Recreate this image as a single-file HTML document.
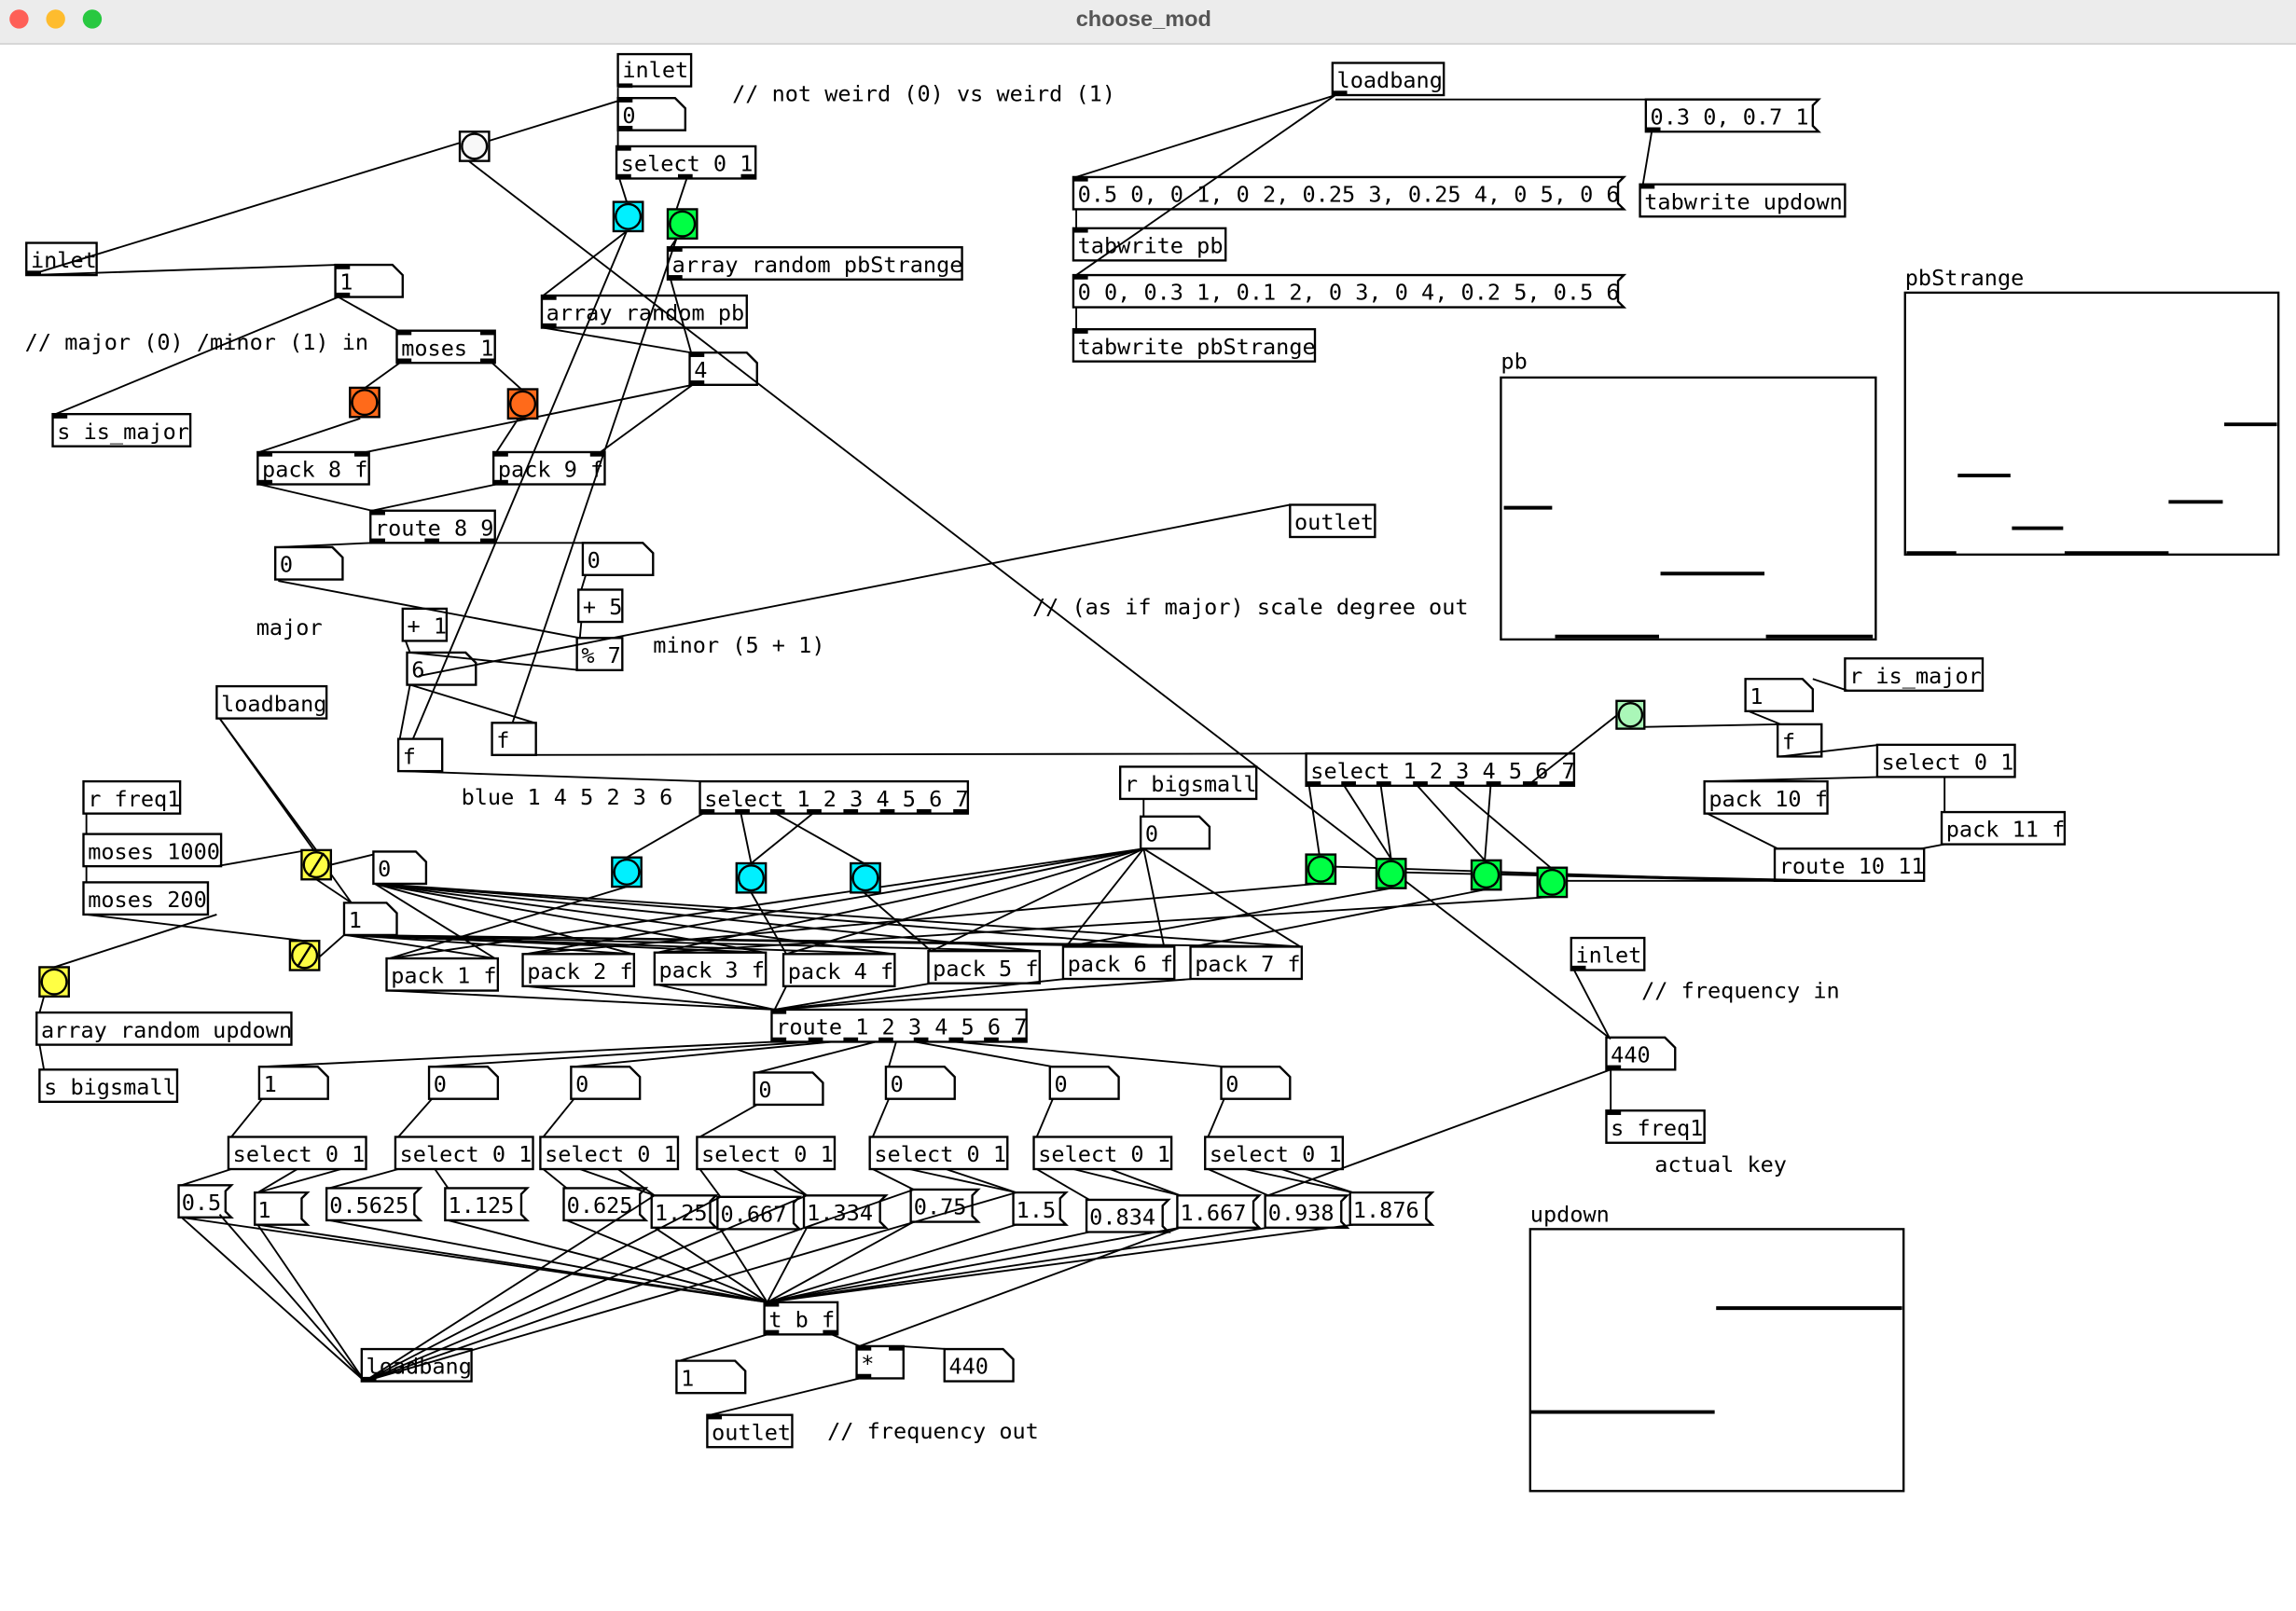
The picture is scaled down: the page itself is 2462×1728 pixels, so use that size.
<!DOCTYPE html>
<html><head><meta charset="utf-8"><style>
html,body{margin:0;padding:0;background:#fff;width:2462px;height:1728px;overflow:hidden}
svg{display:block}
text{font-family:"DejaVu Sans Mono","Liberation Mono",monospace;font-size:15px;fill:#000}
.b rect,.b polygon{fill:none;stroke:#000;stroke-width:1.5}
.w line,.w polyline{stroke:#000;stroke-width:1.2;fill:none}
.io{fill:#000}
</style></head><body>
<svg width="2462" height="1728" viewBox="0 0 1568 1101" preserveAspectRatio="none" xmlns="http://www.w3.org/2000/svg">
<rect x="0" y="0" width="1568" height="30" fill="#ececec"/>
<line x1="0" y1="30" x2="1568" y2="30" stroke="#d0d0d0"/>
<circle cx="13" cy="13" r="6.5" fill="#fe5f57"/><circle cx="38" cy="13" r="6.5" fill="#febc2e"/><circle cx="63" cy="13" r="6.5" fill="#28c840"/>
<text x="781" y="18" text-anchor="middle" style="font-family:'Liberation Sans',sans-serif;font-weight:bold;font-size:15px;fill:#555">choose_mod</text>

<!-- wires -->
<g class="w">
<line x1="422" y1="60" x2="422" y2="67"/><line x1="422" y1="89" x2="422" y2="100"/>
<line x1="325" y1="99" x2="422" y2="69"/><line x1="20" y1="188" x2="316" y2="97"/>
<line x1="320" y1="110" x2="1100" y2="710"/>
<line x1="423" y1="122" x2="428" y2="138"/><line x1="469" y1="122" x2="462" y2="143"/>
<line x1="428" y1="158" x2="371" y2="202"/><line x1="428" y1="158" x2="282" y2="505"/>
<line x1="462" y1="163" x2="458" y2="169"/><line x1="462" y1="163" x2="350" y2="494"/>
<line x1="458" y1="191" x2="472" y2="241"/><line x1="371" y1="224" x2="472" y2="241"/>
<line x1="20" y1="188" x2="230" y2="181"/>
<line x1="231" y1="203" x2="272" y2="226"/><line x1="231" y1="203" x2="38" y2="283"/>
<line x1="273" y1="248" x2="248" y2="266"/><line x1="336" y1="248" x2="356" y2="266"/>
<line x1="246" y1="286" x2="177" y2="309"/><line x1="354" y1="286" x2="339" y2="309"/>
<line x1="473" y1="263" x2="250" y2="309"/><line x1="473" y1="263" x2="410" y2="309"/>
<line x1="177" y1="331" x2="254" y2="349"/><line x1="339" y1="331" x2="254" y2="349"/>
<line x1="254" y1="371" x2="190" y2="374"/><line x1="296" y1="371" x2="400" y2="371"/>
<line x1="190" y1="397" x2="396" y2="436"/>
<line x1="400" y1="393" x2="397" y2="403"/><line x1="397" y1="425" x2="396" y2="436"/>
<line x1="396" y1="458" x2="280" y2="446"/><line x1="286" y1="462" x2="881" y2="345"/>
<line x1="277" y1="438" x2="280" y2="446"/>
<line x1="280" y1="468" x2="273" y2="505"/><line x1="280" y1="468" x2="365" y2="494"/>
<line x1="150" y1="491" x2="216" y2="581"/><line x1="150" y1="491" x2="240" y2="617"/>
<line x1="338" y1="516" x2="892" y2="515"/><line x1="274" y1="527" x2="480" y2="534"/>
<line x1="480" y1="556" x2="428" y2="586"/><line x1="506" y1="556" x2="513" y2="590"/>
<line x1="555" y1="556" x2="513" y2="590"/><line x1="530" y1="556" x2="590" y2="590"/>
<line x1="59" y1="556" x2="59" y2="570"/><line x1="59" y1="592" x2="59" y2="603"/>
<line x1="148" y1="592" x2="210" y2="581"/><line x1="226" y1="591" x2="255" y2="584"/>
<line x1="148" y1="625" x2="37" y2="661"/><line x1="59" y1="625" x2="208" y2="643"/>
<line x1="30" y1="681" x2="27" y2="692"/><line x1="27" y1="714" x2="30" y2="731"/>
<line x1="216" y1="601" x2="240" y2="617"/>
<line x1="208" y1="663" x2="235" y2="639"/>
<line x1="256" y1="604" x2="338" y2="655"/><line x1="256" y1="604" x2="432" y2="652"/>
<line x1="256" y1="604" x2="522" y2="651"/><line x1="256" y1="604" x2="610" y2="652"/>
<line x1="256" y1="604" x2="709" y2="650"/><line x1="256" y1="604" x2="801" y2="647"/>
<line x1="256" y1="604" x2="888" y2="647"/>
<line x1="236" y1="639" x2="338" y2="655"/><line x1="236" y1="639" x2="432" y2="652"/>
<line x1="236" y1="639" x2="522" y2="651"/><line x1="236" y1="639" x2="610" y2="652"/>
<line x1="236" y1="639" x2="709" y2="650"/><line x1="236" y1="639" x2="801" y2="647"/>
<line x1="236" y1="639" x2="888" y2="647"/>
<line x1="781" y1="580" x2="266" y2="655"/><line x1="781" y1="580" x2="359" y2="652"/>
<line x1="781" y1="580" x2="449" y2="651"/><line x1="781" y1="580" x2="537" y2="652"/>
<line x1="781" y1="580" x2="636" y2="650"/><line x1="781" y1="580" x2="728" y2="647"/>
<line x1="781" y1="580" x2="795" y2="647"/><line x1="781" y1="580" x2="888" y2="647"/>
<line x1="428" y1="606" x2="266" y2="655"/><line x1="513" y1="610" x2="537" y2="652"/>
<line x1="590" y1="610" x2="636" y2="650"/>
<line x1="899" y1="604" x2="359" y2="652"/><line x1="950" y1="607" x2="728" y2="647"/>
<line x1="1014" y1="608" x2="815" y2="647"/><line x1="1059" y1="613" x2="449" y2="651"/>
<line x1="781" y1="546" x2="781" y2="558"/>
<line x1="894" y1="537" x2="901" y2="584"/><line x1="918" y1="537" x2="950" y2="587"/>
<line x1="943" y1="537" x2="950" y2="587"/><line x1="968" y1="537" x2="1014" y2="588"/>
<line x1="1018" y1="537" x2="1014" y2="588"/><line x1="993" y1="537" x2="1059" y2="593"/>
<line x1="1043" y1="537" x2="1104" y2="489"/>
<line x1="1113" y1="497" x2="1216" y2="495"/><line x1="1262" y1="472" x2="1238" y2="464"/>
<line x1="1194" y1="486" x2="1216" y2="495"/><line x1="1216" y1="517" x2="1284" y2="509"/>
<line x1="1284" y1="531" x2="1166" y2="534"/><line x1="1328" y1="531" x2="1328" y2="555"/>
<line x1="1166" y1="556" x2="1214" y2="580"/><line x1="1328" y1="577" x2="1312" y2="580"/>
<line x1="1214" y1="602" x2="902" y2="592"/><line x1="1214" y1="602" x2="950" y2="596"/>
<line x1="1262" y1="602" x2="1014" y2="597"/><line x1="1262" y1="602" x2="1060" y2="602"/>
<line x1="266" y1="677" x2="529" y2="690"/><line x1="359" y1="674" x2="529" y2="690"/>
<line x1="449" y1="673" x2="529" y2="690"/><line x1="537" y1="674" x2="529" y2="690"/>
<line x1="636" y1="672" x2="529" y2="690"/><line x1="728" y1="669" x2="529" y2="690"/>
<line x1="815" y1="669" x2="529" y2="690"/>
<line x1="529" y1="712" x2="179" y2="729"/><line x1="556" y1="712" x2="295" y2="729"/>
<line x1="568" y1="712" x2="392" y2="729"/><line x1="598" y1="712" x2="517" y2="733"/>
<line x1="612" y1="712" x2="607" y2="729"/><line x1="625" y1="712" x2="719" y2="729"/>
<line x1="652" y1="712" x2="836" y2="729"/>
<line x1="179" y1="751" x2="158" y2="777"/><line x1="295" y1="751" x2="272" y2="777"/>
<line x1="392" y1="751" x2="371" y2="777"/><line x1="517" y1="755" x2="478" y2="777"/>
<line x1="607" y1="751" x2="596" y2="777"/><line x1="719" y1="751" x2="708" y2="777"/>
<line x1="836" y1="751" x2="825" y2="777"/>
<line x1="158" y1="799" x2="124" y2="810"/><line x1="203" y1="799" x2="176" y2="815"/><line x1="233" y1="799" x2="176" y2="815"/>
<line x1="272" y1="799" x2="225" y2="812"/><line x1="297" y1="799" x2="306" y2="812"/>
<line x1="371" y1="799" x2="387" y2="812"/><line x1="396" y1="799" x2="447" y2="817"/><line x1="422" y1="799" x2="447" y2="817"/>
<line x1="478" y1="799" x2="492" y2="818"/><line x1="503" y1="799" x2="551" y2="817"/><line x1="528" y1="799" x2="551" y2="817"/>
<line x1="596" y1="799" x2="624" y2="813"/><line x1="621" y1="799" x2="694" y2="815"/><line x1="646" y1="799" x2="694" y2="815"/>
<line x1="708" y1="799" x2="744" y2="820"/><line x1="733" y1="799" x2="806" y2="817"/><line x1="758" y1="799" x2="806" y2="817"/>
<line x1="825" y1="799" x2="866" y2="817"/><line x1="850" y1="799" x2="924" y2="815"/><line x1="875" y1="799" x2="924" y2="815"/>
<line x1="1100" y1="731" x2="866" y2="817"/>
<line x1="1075" y1="663" x2="1099" y2="709"/><line x1="1100" y1="731" x2="1100" y2="759"/>
<line x1="124" y1="832" x2="524" y2="890"/><line x1="176" y1="837" x2="524" y2="890"/>
<line x1="225" y1="834" x2="524" y2="890"/><line x1="306" y1="834" x2="524" y2="890"/>
<line x1="387" y1="834" x2="524" y2="890"/><line x1="447" y1="839" x2="524" y2="890"/>
<line x1="492" y1="840" x2="524" y2="890"/><line x1="551" y1="839" x2="524" y2="890"/>
<line x1="624" y1="835" x2="524" y2="890"/><line x1="694" y1="837" x2="524" y2="890"/>
<line x1="744" y1="842" x2="524" y2="890"/><line x1="806" y1="839" x2="524" y2="890"/>
<line x1="866" y1="839" x2="524" y2="890"/><line x1="924" y1="837" x2="524" y2="890"/>
<line x1="124" y1="832" x2="249" y2="944"/><line x1="176" y1="837" x2="249" y2="944"/>
<line x1="150" y1="830" x2="249" y2="944"/>
<line x1="249" y1="944" x2="447" y2="817"/><line x1="249" y1="944" x2="492" y2="818"/>
<line x1="249" y1="944" x2="551" y2="817"/><line x1="249" y1="944" x2="624" y2="813"/>
<line x1="249" y1="944" x2="694" y2="815"/>
<line x1="524" y1="912" x2="464" y2="930"/><line x1="568" y1="912" x2="587" y2="920"/>
<line x1="587" y1="942" x2="485" y2="967"/><line x1="647" y1="922" x2="615" y2="920"/>
<line x1="587" y1="920" x2="806" y2="839"/>
<line x1="912" y1="65" x2="735" y2="121"/><line x1="912" y1="65" x2="735" y2="188"/>
<line x1="912" y1="68" x2="1126" y2="68"/>
<line x1="1128" y1="90" x2="1122" y2="126"/>
<line x1="735" y1="143" x2="735" y2="156"/><line x1="735" y1="210" x2="735" y2="225"/>
</g>

<g class="b">
<rect x="422" y="37" width="50" height="22"/><text x="425" y="53">inlet</text>
<polygon points="422,67 461,67 468,74 468,89 422,89"/><text x="425" y="84">0</text>
<rect x="421" y="100" width="95" height="22"/><text x="424" y="117">select 0 1</text>
<rect x="456" y="169" width="201" height="22"/><text x="459" y="186">array random pbStrange</text>
<rect x="18" y="166" width="48" height="22"/><text x="21" y="183">inlet</text>
<polygon points="229,181 268,181 275,188 275,203 229,203"/><text x="232" y="198">1</text>
<rect x="271" y="226" width="67" height="22"/><text x="274" y="243">moses 1</text>
<rect x="370" y="202" width="140" height="22"/><text x="373" y="219">array random pb</text>
<polygon points="471,241 510,241 517,248 517,263 471,263"/><text x="474" y="258">4</text>
<rect x="36" y="283" width="94" height="22"/><text x="39" y="300">s is_major</text>
<rect x="176" y="309" width="76" height="22"/><text x="179" y="326">pack 8 f</text>
<rect x="337" y="309" width="76" height="22"/><text x="340" y="326">pack 9 f</text>
<rect x="253" y="349" width="85" height="22"/><text x="256" y="366">route 8 9</text>
<polygon points="188,374 227,374 234,381 234,396 188,396"/><text x="191" y="391">0</text>
<polygon points="398,371 439,371 446,378 446,393 398,393"/><text x="401" y="388">0</text>
<rect x="395" y="403" width="30" height="22"/><text x="398" y="420">+ 5</text>
<rect x="275" y="416" width="30" height="22"/><text x="278" y="433">+ 1</text>
<rect x="394" y="436" width="31" height="22"/><text x="397" y="453">% 7</text>
<polygon points="278,446 318,446 325,453 325,468 278,468"/><text x="281" y="463">6</text>
<rect x="881" y="345" width="58" height="22"/><text x="884" y="362">outlet</text>
<rect x="148" y="469" width="75" height="22"/><text x="151" y="486">loadbang</text>
<rect x="336" y="494" width="30" height="22"/><text x="339" y="511">f</text>
<rect x="272" y="505" width="30" height="22"/><text x="275" y="522">f</text>
<rect x="478" y="534" width="183" height="22"/><text x="481" y="551">select 1 2 3 4 5 6 7</text>
<rect x="765" y="524" width="93" height="22"/><text x="768" y="541">r bigsmall</text>
<polygon points="779,558 819,558 826,565 826,580 779,580"/><text x="782" y="575">0</text>
<rect x="892" y="515" width="183" height="22"/><text x="895" y="532">select 1 2 3 4 5 6 7</text>
<polygon points="1192,464 1231,464 1238,471 1238,486 1192,486"/><text x="1195" y="481">1</text>
<rect x="1260" y="450" width="94" height="22"/><text x="1263" y="467">r is_major</text>
<rect x="1214" y="495" width="30" height="22"/><text x="1217" y="512">f</text>
<rect x="1282" y="509" width="94" height="22"/><text x="1285" y="526">select 0 1</text>
<rect x="1164" y="534" width="84" height="22"/><text x="1167" y="551">pack 10 f</text>
<rect x="1326" y="555" width="84" height="22"/><text x="1329" y="572">pack 11 f</text>
<rect x="1212" y="580" width="102" height="22"/><text x="1215" y="597">route 10 11</text>
<rect x="57" y="534" width="66" height="22"/><text x="60" y="551">r freq1</text>
<rect x="57" y="570" width="94" height="22"/><text x="60" y="587">moses 1000</text>
<rect x="57" y="603" width="85" height="22"/><text x="60" y="620">moses 200</text>
<polygon points="255,582 284,582 291,589 291,604 255,604"/><text x="258" y="599">0</text>
<polygon points="235,617 264,617 271,624 271,639 235,639"/><text x="238" y="634">1</text>
<rect x="25" y="692" width="174" height="22"/><text x="28" y="709">array random updown</text>
<rect x="27" y="731" width="94" height="22"/><text x="30" y="748">s bigsmall</text>
<rect x="264" y="655" width="76" height="22"/><text x="267" y="672">pack 1 f</text>
<rect x="357" y="652" width="76" height="22"/><text x="360" y="669">pack 2 f</text>
<rect x="447" y="651" width="76" height="22"/><text x="450" y="668">pack 3 f</text>
<rect x="535" y="652" width="76" height="22"/><text x="538" y="669">pack 4 f</text>
<rect x="634" y="650" width="76" height="22"/><text x="637" y="667">pack 5 f</text>
<rect x="726" y="647" width="76" height="22"/><text x="729" y="664">pack 6 f</text>
<rect x="813" y="647" width="76" height="22"/><text x="816" y="664">pack 7 f</text>
<rect x="527" y="690" width="174" height="22"/><text x="530" y="707">route 1 2 3 4 5 6 7</text>
<rect x="1073" y="641" width="50" height="22"/><text x="1076" y="658">inlet</text>
<polygon points="1097,709 1137,709 1144,716 1144,731 1097,731"/><text x="1100" y="726">440</text>
<rect x="1097" y="759" width="67" height="22"/><text x="1100" y="776">s freq1</text>
<polygon points="177,729 217,729 224,736 224,751 177,751"/><text x="180" y="746">1</text>
<polygon points="293,729 333,729 340,736 340,751 293,751"/><text x="296" y="746">0</text>
<polygon points="390,729 430,729 437,736 437,751 390,751"/><text x="393" y="746">0</text>
<polygon points="515,733 555,733 562,740 562,755 515,755"/><text x="518" y="750">0</text>
<polygon points="605,729 645,729 652,736 652,751 605,751"/><text x="608" y="746">0</text>
<polygon points="717,729 757,729 764,736 764,751 717,751"/><text x="720" y="746">0</text>
<polygon points="834,729 874,729 881,736 881,751 834,751"/><text x="837" y="746">0</text>
<rect x="156" y="777" width="94" height="22"/><text x="159" y="794">select 0 1</text>
<rect x="270" y="777" width="94" height="22"/><text x="273" y="794">select 0 1</text>
<rect x="369" y="777" width="94" height="22"/><text x="372" y="794">select 0 1</text>
<rect x="476" y="777" width="94" height="22"/><text x="479" y="794">select 0 1</text>
<rect x="594" y="777" width="94" height="22"/><text x="597" y="794">select 0 1</text>
<rect x="706" y="777" width="94" height="22"/><text x="709" y="794">select 0 1</text>
<rect x="823" y="777" width="94" height="22"/><text x="826" y="794">select 0 1</text>
<polygon points="122,810 158,810 154,814 154,828 158,832 122,832"/><text x="124" y="827">0.5</text>
<polygon points="174,815 210,815 206,819 206,833 210,837 174,837"/><text x="176" y="832">1</text>
<polygon points="223,812 287,812 283,816 283,830 287,834 223,834"/><text x="225" y="829">0.5625</text>
<polygon points="304,812 360,812 356,816 356,830 360,834 304,834"/><text x="306" y="829">1.125</text>
<polygon points="385,812 441,812 437,816 437,830 441,834 385,834"/><text x="387" y="829">0.625</text>
<polygon points="445,817 489,817 485,821 485,835 489,839 445,839"/><text x="447" y="834">1.25</text>
<polygon points="490,818 546,818 542,822 542,836 546,840 490,840"/><text x="492" y="835">0.667</text>
<polygon points="549,817 605,817 601,821 601,835 605,839 549,839"/><text x="551" y="834">1.334</text>
<polygon points="622,813 668,813 664,817 664,831 668,835 622,835"/><text x="624" y="830">0.75</text>
<polygon points="692,815 728,815 724,819 724,833 728,837 692,837"/><text x="694" y="832">1.5</text>
<polygon points="742,820 798,820 794,824 794,838 798,842 742,842"/><text x="744" y="837">0.834</text>
<polygon points="804,817 860,817 856,821 856,835 860,839 804,839"/><text x="806" y="834">1.667</text>
<polygon points="864,817 920,817 916,821 916,835 920,839 864,839"/><text x="866" y="834">0.938</text>
<polygon points="922,815 978,815 974,819 974,833 978,837 922,837"/><text x="924" y="832">1.876</text>
<rect x="522" y="890" width="50" height="22"/><text x="525" y="907">t b f</text>
<rect x="247" y="922" width="75" height="22"/><text x="250" y="939">loadbang</text>
<polygon points="462,930 502,930 509,937 509,952 462,952"/><text x="465" y="947">1</text>
<rect x="585" y="920" width="32" height="22"/><text x="588" y="937">*</text>
<polygon points="645,922 685,922 692,929 692,944 645,944"/><text x="648" y="939">440</text>
<rect x="483" y="967" width="58" height="22"/><text x="486" y="984">outlet</text>
<rect x="910" y="43" width="76" height="22"/><text x="913" y="60">loadbang</text>
<polygon points="1124,68 1242,68 1238,72 1238,86 1242,90 1124,90"/><text x="1127" y="85">0.3 0, 0.7 1</text>
<rect x="1120" y="126" width="140" height="22"/><text x="1123" y="143">tabwrite updown</text>
<polygon points="733,121 1109,121 1105,125 1105,139 1109,143 733,143"/><text x="736" y="138">0.5 0, 0 1, 0 2, 0.25 3, 0.25 4, 0 5, 0 6</text>
<rect x="733" y="156" width="104" height="22"/><text x="736" y="173">tabwrite pb</text>
<polygon points="733,188 1109,188 1105,192 1105,206 1109,210 733,210"/><text x="736" y="205">0 0, 0.3 1, 0.1 2, 0 3, 0 4, 0.2 5, 0.5 6</text>
<rect x="733" y="225" width="165" height="22"/><text x="736" y="242">tabwrite pbStrange</text>
<rect x="1301" y="200" width="255" height="179"/>
<rect x="1025" y="258" width="256" height="179"/>
<rect x="1045" y="840" width="255" height="179"/>
</g>
<text x="1301" y="195">pbStrange</text><text x="1025" y="252">pb</text><text x="1045" y="835">updown</text>
<g stroke="#000" stroke-width="2.5">
<line x1="1027" y1="347" x2="1060" y2="347"/><line x1="1134" y1="392" x2="1205" y2="392"/>
<line x1="1062" y1="435" x2="1133" y2="435"/><line x1="1206" y1="435" x2="1279" y2="435"/>
<line x1="1337" y1="325" x2="1373" y2="325"/><line x1="1374" y1="361" x2="1409" y2="361"/>
<line x1="1481" y1="343" x2="1518" y2="343"/><line x1="1519" y1="290" x2="1555" y2="290"/>
<line x1="1302" y1="378" x2="1336" y2="378"/><line x1="1410" y1="378" x2="1481" y2="378"/>
<line x1="1045" y1="965" x2="1171" y2="965"/><line x1="1172" y1="894" x2="1299" y2="894"/>
</g>

<text x="500" y="69">// not weird (0) vs weird (1)</text>
<text x="17" y="239">// major (0) /minor (1) in</text>
<text x="175" y="434">major</text>
<text x="446" y="446">minor (5 + 1)</text>
<text x="705" y="420">// (as if major) scale degree out</text>
<text x="315" y="550">blue 1 4 5 2 3 6</text>
<text x="1121" y="682">// frequency in</text>
<text x="1130" y="801">actual key</text>
<text x="565" y="983">// frequency out</text>

<g stroke="#000" stroke-width="1.5">
<rect x="314" y="90" width="20" height="20" fill="#fff"/><circle cx="324" cy="100" r="8.5" fill="#f8f8f8"/>
<rect x="419" y="138" width="20" height="20" fill="#00f0ff"/><circle cx="429" cy="148" r="8.5" fill="#00f0ff"/>
<rect x="456" y="143" width="20" height="20" fill="#0f4"/><circle cx="466" cy="153" r="8.5" fill="#0f4"/>
<rect x="239" y="265" width="20" height="20" fill="#ff6a1a"/><circle cx="249" cy="275" r="8.5" fill="#ff6a1a"/>
<rect x="347" y="266" width="20" height="20" fill="#ff6a1a"/><circle cx="357" cy="276" r="8.5" fill="#ff6a1a"/>
<rect x="1104" y="479" width="19" height="19" fill="#aaf7b8"/><circle cx="1113.5" cy="488.5" r="8" fill="#aaf7b8"/>
<rect x="892" y="584" width="20" height="20" fill="#0f4"/><circle cx="902" cy="594" r="8.5" fill="#0f4"/>
<rect x="940" y="587" width="20" height="20" fill="#0f4"/><circle cx="950" cy="597" r="8.5" fill="#0f4"/>
<rect x="1005" y="588" width="20" height="20" fill="#0f4"/><circle cx="1015" cy="598" r="8.5" fill="#0f4"/>
<rect x="1050" y="593" width="20" height="20" fill="#0f4"/><circle cx="1060" cy="603" r="8.5" fill="#0f4"/>
<rect x="418" y="586" width="20" height="20" fill="#00f0ff"/><circle cx="428" cy="596" r="8.5" fill="#00f0ff"/>
<rect x="503" y="590" width="20" height="20" fill="#00f0ff"/><circle cx="513" cy="600" r="8.5" fill="#00f0ff"/>
<rect x="581" y="590" width="20" height="20" fill="#00f0ff"/><circle cx="591" cy="600" r="8.5" fill="#00f0ff"/>
<rect x="27" y="661" width="20" height="20" fill="#ff4"/><circle cx="37" cy="671" r="8.5" fill="#ff4"/>
<rect x="206" y="581" width="20" height="20" fill="#ff4"/><ellipse cx="216" cy="591" rx="8.5" ry="8.5" fill="#ff4"/><line x1="211" y1="599" x2="221" y2="583"/>
<rect x="198" y="643" width="20" height="20" fill="#ff4"/><ellipse cx="208" cy="653" rx="8.5" ry="8.5" fill="#ff4"/><line x1="203" y1="661" x2="213" y2="645"/>
</g>

<g class="io">
<rect x="422" y="57" width="10" height="3"/><rect x="422" y="67" width="10" height="3"/><rect x="422" y="86" width="10" height="3"/>
<rect x="421" y="100" width="10" height="3"/><rect x="421" y="119" width="10" height="3"/><rect x="463" y="119" width="10" height="3"/><rect x="506" y="119" width="10" height="3"/>
<rect x="18" y="185" width="10" height="3"/><rect x="229" y="181" width="10" height="3"/><rect x="229" y="200" width="10" height="3"/>
<rect x="271" y="226" width="10" height="3"/><rect x="328" y="226" width="10" height="3"/><rect x="271" y="245" width="10" height="3"/><rect x="328" y="245" width="10" height="3"/>
<rect x="370" y="202" width="10" height="3"/><rect x="370" y="221" width="10" height="3"/><rect x="456" y="169" width="10" height="3"/><rect x="456" y="188" width="10" height="3"/>
<rect x="471" y="241" width="10" height="3"/><rect x="471" y="260" width="10" height="3"/>
<rect x="36" y="283" width="10" height="3"/>
<rect x="176" y="309" width="10" height="3"/><rect x="242" y="309" width="10" height="3"/><rect x="176" y="328" width="10" height="3"/>
<rect x="337" y="309" width="10" height="3"/><rect x="403" y="309" width="10" height="3"/><rect x="337" y="328" width="10" height="3"/>
<rect x="253" y="349" width="10" height="3"/><rect x="253" y="368" width="10" height="3"/><rect x="290" y="368" width="10" height="3"/><rect x="328" y="368" width="10" height="3"/>
<rect x="522" y="890" width="10" height="3"/><rect x="522" y="909" width="10" height="3"/><rect x="562" y="909" width="10" height="3"/>
<rect x="527" y="690" width="10" height="3"/><rect x="527" y="709" width="10" height="3"/><rect x="552" y="709" width="10" height="3"/><rect x="576" y="709" width="10" height="3"/><rect x="600" y="709" width="10" height="3"/><rect x="624" y="709" width="10" height="3"/><rect x="648" y="709" width="10" height="3"/><rect x="672" y="709" width="10" height="3"/><rect x="691" y="709" width="10" height="3"/>
<rect x="892" y="534" width="10" height="3"/><rect x="916" y="534" width="10" height="3"/><rect x="940" y="534" width="10" height="3"/><rect x="965" y="534" width="10" height="3"/><rect x="990" y="534" width="10" height="3"/><rect x="1015" y="534" width="10" height="3"/><rect x="1040" y="534" width="10" height="3"/><rect x="1065" y="534" width="10" height="3"/>
<rect x="478" y="553" width="10" height="3"/><rect x="502" y="553" width="10" height="3"/><rect x="526" y="553" width="10" height="3"/><rect x="551" y="553" width="10" height="3"/><rect x="576" y="553" width="10" height="3"/><rect x="601" y="553" width="10" height="3"/><rect x="626" y="553" width="10" height="3"/><rect x="651" y="553" width="10" height="3"/>
<rect x="910" y="62" width="10" height="3"/><rect x="733" y="121" width="10" height="3"/><rect x="733" y="156" width="10" height="3"/><rect x="733" y="188" width="10" height="3"/><rect x="733" y="225" width="10" height="3"/>
<rect x="1124" y="87" width="10" height="3"/><rect x="1120" y="126" width="10" height="3"/>
<rect x="247" y="941" width="10" height="3"/><rect x="483" y="967" width="10" height="3"/><rect x="585" y="920" width="10" height="3"/><rect x="607" y="920" width="10" height="3"/><rect x="585" y="939" width="10" height="3"/>
<rect x="1097" y="728" width="10" height="3"/><rect x="1097" y="759" width="10" height="3"/><rect x="1073" y="660" width="10" height="3"/>
</g>
</svg>
</body></html>
